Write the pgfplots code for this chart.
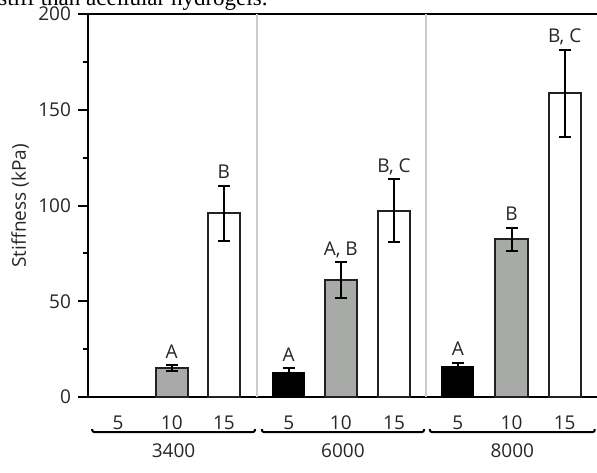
\documentclass[border=0pt]{standalone}
\usepackage{fontspec}
\setmainfont{Open Sans}
\newfontfamily\capfont{Liberation Serif}
\usepackage{pgfplots}
\pgfplotsset{compat=1.18}
\usetikzlibrary{calc}

\definecolor{bargray}{HTML}{A8AAA8}
\definecolor{edge}{HTML}{222222}
\definecolor{sep}{HTML}{CCCCCC}

\begin{document}
\begin{tikzpicture}
\useasboundingbox (0,0) rectangle (298.5pt,236pt);
\clip (0,0) rectangle (298.5pt,236pt);

% cropped caption line above the figure
\node[anchor=base west, inner sep=0pt, font=\capfont\fontsize{11.5}{13}\selectfont] at (-1pt,233pt) {stiff than acellular hydrogels.};

\node[rotate=90, font=\fontsize{9.5}{11}\selectfont, text=black!85] at (10pt,133pt) {Stiffness (kPa)};

\begin{axis}[
    at={(44pt,37.5pt)}, anchor=south west,
    scale only axis,
    width=256pt, height=191.5pt,
    xmin=-0.57, xmax=9.15,
    ymin=0, ymax=200,
    clip=false,
    axis line style={line width=1pt, black},
    ytick={0,50,100,150,200},
    minor ytick={25,75,125,175},
    ytick pos=left,
    tick align=outside,
    major tick length=5pt,
    minor tick length=2.5pt,
    every tick/.style={line width=1pt, black},
    xtick={0,1.02,2.01,3.24,4.23,5.24,6.45,7.47,8.48},
    xticklabels={5,10,15,5,10,15,5,10,15},
    xtick style={draw=none},
    xticklabel style={anchor=base, yshift=-11pt},
    ticklabel style={font=\fontsize{9.5}{11}\selectfont, text=black!85},
    /pgf/number format/assume math mode=true,
    error bars/error bar style={line width=1pt, black},
    error bars/error mark options={rotate=90, mark size=3pt, line width=1pt, black},
]
% group separators
\draw[sep, line width=1pt] (axis cs:2.64,0) -- (axis cs:2.64,200);
\draw[sep, line width=1pt] (axis cs:5.84,0) -- (axis cs:5.84,200);

% 5 (black)
\addplot[ybar, bar width=0.61, bar shift=0pt, fill=black, draw=black,
    error bars/.cd, y dir=both, y explicit]
coordinates {
    (3.24,13.0) +- (0,2.0)
    (6.45,16.0) +- (0,1.9)
};
% 10 (gray)
\addplot[ybar, bar width=0.61, bar shift=0pt, fill=bargray, draw=edge, line width=1pt,
    error bars/.cd, y dir=both, y explicit]
coordinates {
    (1.02,15.0) +- (0,1.5)
    (4.23,61.0) +- (0,9.5)
    (7.47,82.5) +- (0,6.0)
};
% 15 (white)
\addplot[ybar, bar width=0.61, bar shift=0pt, fill=white, draw=edge, line width=1pt,
    error bars/.cd, y dir=both, y explicit]
coordinates {
    (2.01,95.9) +- (0,14.3)
    (5.24,97.3) +- (0,16.5)
    (8.48,158.7) +- (0,22.7)
};

% significance letters
\begin{scope}[every node/.style={anchor=base, yshift=3.5pt, inner sep=0pt, font=\fontsize{9.5}{11}\selectfont, text=black!85}]
\node at (axis cs:1.02,16.5) {A};
\node at (axis cs:2.01,110.2) {B};
\node at (axis cs:3.24,15.0) {A};
\node at (axis cs:4.23,70.5) {A, B};
\node at (axis cs:5.24,113.8) {B, C};
\node at (axis cs:6.45,17.9) {A};
\node at (axis cs:7.47,88.5) {B};
\node at (axis cs:8.48,181.4) {B, C};
\end{scope}

% anchors for the group brackets
\coordinate (g1a) at (axis cs:-0.49,0);
\coordinate (g1b) at (axis cs:2.60,0);
\coordinate (g2a) at (axis cs:2.73,0);
\coordinate (g2b) at (axis cs:5.81,0);
\coordinate (g3a) at (axis cs:5.92,0);
\coordinate (g3b) at (axis cs:9.05,0);
\end{axis}

% group brackets and names (below the axis)
\begin{scope}[line width=1pt, rounded corners=1pt]
\foreach \a/\b in {g1a/g1b, g2a/g2b, g3a/g3b}
  \draw ([yshift=-16pt]\a) -- ([yshift=-17.5pt]\a) -- ([yshift=-17.5pt]\b) -- ([yshift=-16pt]\b);
\end{scope}
\begin{scope}[every node/.style={anchor=base, inner sep=0pt, font=\fontsize{9.5}{11}\selectfont, text=black!85}]
\node at ([yshift=-30pt]$(g1a)!0.5!(g1b)$) {3400};
\node at ([yshift=-30pt]$(g2a)!0.5!(g2b)$) {6000};
\node at ([yshift=-30pt]$(g3a)!0.5!(g3b)$) {8000};
\end{scope}
\end{tikzpicture}
\end{document}
